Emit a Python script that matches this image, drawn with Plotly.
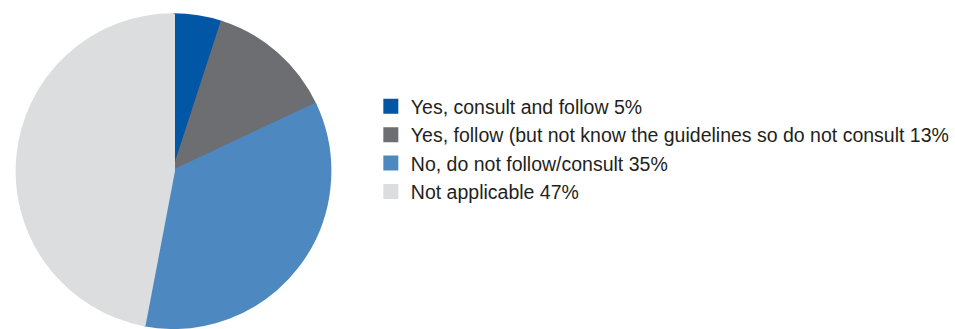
import plotly.graph_objects as go

# Survey responses: share of respondents (%)
labels = [
    "Yes, consult and follow",
    "Yes, follow (but not know the guidelines so do not consult",
    "No, do not follow/consult",
    "Not applicable",
]
shares = [5, 13, 35, 47]
colors = ["#0156A5", "#6D6E71", "#4D89C0", "#DCDDDF"]

legend_names = [f"{name} {pct}%" for name, pct in zip(labels, shares)]

fig = go.Figure(
    go.Pie(
        labels=legend_names,
        values=shares,
        sort=False,
        direction="clockwise",
        rotation=0,
        # same-colour outline so legend swatches come out a little larger
        marker=dict(colors=colors, line=dict(color=colors, width=3)),
        textinfo="none",
        hoverinfo="label",
        domain=dict(x=[0.018, 0.3465], y=[0.0, 0.96]),
    )
)

fig.update_layout(
    width=955,
    height=329,
    margin=dict(l=0, r=0, t=0, b=0),
    paper_bgcolor="white",
    plot_bgcolor="white",
    showlegend=True,
    legend=dict(
        x=372 / 955,
        y=0.735,
        xanchor="left",
        yanchor="top",
        font=dict(family="Liberation Sans, Arial, sans-serif", size=19.5, color="#231F20"),
    ),
)

fig.write_html("out.html")
